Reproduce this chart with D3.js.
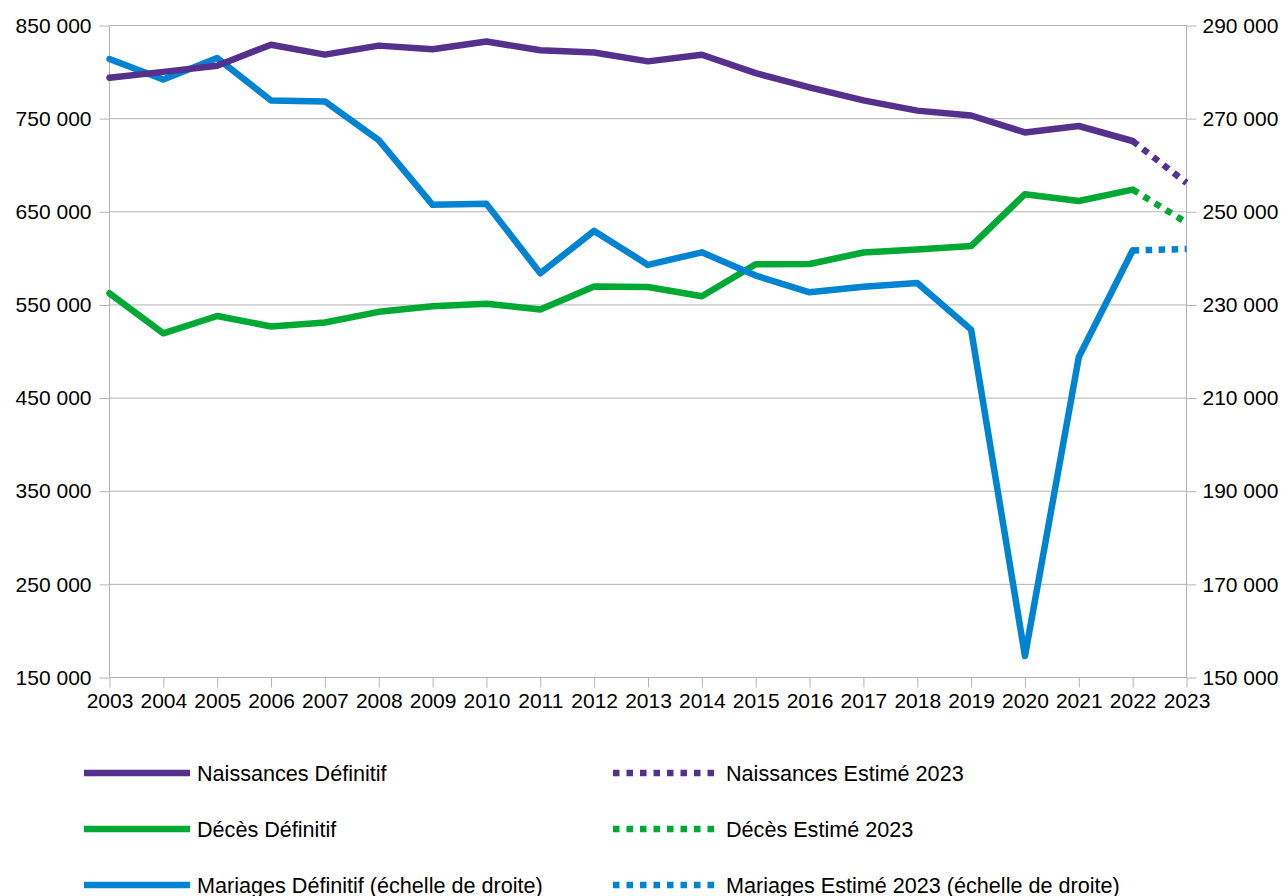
<!doctype html>
<html lang="fr">
<head>
  <meta charset="utf-8">
  <title>Naissances, décès et mariages</title>
  <script src="https://cdn.jsdelivr.net/npm/d3@7"></script>
  <style>
    body { margin: 0; background: #fff; }
    svg { display: block; font-family: "Liberation Sans", Arial, sans-serif; }
    .grid line { stroke: #b3b3b3; stroke-width: 1; }
    .axis path, .axis line { stroke: #b3b3b3; stroke-width: 1; }
    .axis text { font-size: 21px; fill: #000; }
    .serie { fill: none; stroke-width: 6.5; stroke-linejoin: round; stroke-linecap: round; }
    .estime { fill: none; stroke-width: 6.5; stroke-dasharray: 6.5 6.5; }
    .legend text { font-size: 21.6px; fill: #000; }
  </style>
</head>
<body>
<svg width="1287" height="896"></svg>
<script>
  // années
  var years = [2003, 2004, 2005, 2006, 2007, 2008, 2009, 2010, 2011, 2012, 2013,
               2014, 2015, 2016, 2017, 2018, 2019, 2020, 2021, 2022, 2023];

  // valeurs définitives 2003-2022
  var naissances = [793900, 800200, 806800, 829400, 818700, 828400, 824600, 832800, 823400, 821000,
                    811500, 818600, 798900, 783600, 769600, 758600, 753400, 735200, 742100, 726000];
  var deces = [562500, 519500, 538100, 526900, 531200, 542600, 548500, 551200, 545100, 569900,
               569200, 559300, 593700, 593900, 606300, 609600, 613200, 668900, 661600, 673800];
  var mariages = [282800, 278400, 283000, 273900, 273700, 265400, 251500, 251700, 236800, 245900,
                  238600, 241300, 236300, 232700, 233900, 234700, 224700, 154600, 218800, 241700];

  // estimations 2023 (départ au point 2022)
  var estYears = [2022, 2023];
  var naissancesEst = [726000, 681000];
  var decesEst = [673800, 638500];
  var mariagesEst = [241700, 242000];

  var leftTicks = [150000, 250000, 350000, 450000, 550000, 650000, 750000, 850000];
  var rightTicks = [150000, 170000, 190000, 210000, 230000, 250000, 270000, 290000];

  var violet = "#55308d", vert = "#00a933", bleu = "#0084d1";

  var svg = d3.select("svg"),
    mLeft = 109.5, mRight = 1186.5, mTop = 25.5, mBottom = 677.5;

  var x = d3.scaleLinear().domain([2003, 2023]).range([mLeft, mRight]);
  var yL = d3.scaleLinear().domain([150000, 850000]).range([mBottom, mTop]);
  var yR = d3.scaleLinear().domain([150000, 290000]).range([mBottom, mTop]);

  var fmt = function (d) { return d3.format(",")(d).replace(/,/g, " "); };

  // quadrillage
  svg.append("g").attr("class", "grid")
    .selectAll("line").data(leftTicks).enter().append("line")
    .attr("x1", mLeft).attr("x2", mRight)
    .attr("y1", function (d) { return yL(d); }).attr("y2", function (d) { return yL(d); });

  // axes
  svg.append("g").attr("class", "axis")
    .attr("transform", "translate(" + mLeft + ",0)")
    .call(d3.axisLeft(yL).tickValues(leftTicks).tickFormat(fmt).tickSize(10).tickPadding(8));

  svg.append("g").attr("class", "axis")
    .attr("transform", "translate(" + mRight + ",0)")
    .call(d3.axisRight(yR).tickValues(rightTicks).tickFormat(fmt).tickSize(10).tickPadding(6));

  svg.append("g").attr("class", "axis")
    .attr("transform", "translate(0," + mBottom + ")")
    .call(d3.axisBottom(x).tickValues(years).tickFormat(d3.format("d")).tickSize(10).tickPadding(6));

  svg.selectAll(".axis .domain").remove();
  svg.append("line").attr("x1", mLeft).attr("x2", mLeft).attr("y1", mTop).attr("y2", mBottom).attr("stroke", "#b3b3b3");
  svg.append("line").attr("x1", mRight).attr("x2", mRight).attr("y1", mTop).attr("y2", mBottom).attr("stroke", "#b3b3b3");
  svg.append("line").attr("x1", mLeft).attr("x2", mRight).attr("y1", mBottom).attr("y2", mBottom).attr("stroke", "#b3b3b3");

  // courbes
  function draw(vals, xs, scale, color, cls) {
    var line = d3.line()
      .x(function (d, i) { return x(xs[i]); })
      .y(function (d) { return scale(d); });
    svg.append("path").datum(vals).attr("class", cls).attr("stroke", color).attr("d", line);
  }

  draw(naissancesEst, estYears, yL, violet, "estime");
  draw(decesEst, estYears, yL, vert, "estime");
  draw(mariagesEst, estYears, yR, bleu, "estime");
  draw(deces, years, yL, vert, "serie");
  draw(mariages, years, yR, bleu, "serie");
  draw(naissances, years, yL, violet, "serie");

  // légende
  var legendItems = [
    { label: "Naissances Définitif", color: violet, dash: false, col: 0, row: 0 },
    { label: "Décès Définitif", color: vert, dash: false, col: 0, row: 1 },
    { label: "Mariages Définitif (échelle de droite)", color: bleu, dash: false, col: 0, row: 2 },
    { label: "Naissances Estimé 2023", color: violet, dash: true, col: 1, row: 0 },
    { label: "Décès Estimé 2023", color: vert, dash: true, col: 1, row: 1 },
    { label: "Mariages Estimé 2023 (échelle de droite)", color: bleu, dash: true, col: 1, row: 2 }
  ];
  var colX = [84, 613], rowY = [773, 829, 885];

  var lg = svg.append("g").attr("class", "legend")
    .selectAll("g").data(legendItems).enter().append("g")
    .attr("transform", function (d) { return "translate(" + colX[d.col] + "," + rowY[d.row] + ")"; });

  lg.append("line")
    .attr("x1", 0).attr("x2", 106).attr("y1", 0).attr("y2", 0)
    .attr("stroke", function (d) { return d.color; })
    .attr("stroke-width", 6.5)
    .attr("stroke-dasharray", function (d) { return d.dash ? "6.5 7" : null; });

  lg.append("text")
    .attr("x", 113).attr("y", 0).attr("dy", "0.35em")
    .text(function (d) { return d.label; });
</script>
</body>
</html>
